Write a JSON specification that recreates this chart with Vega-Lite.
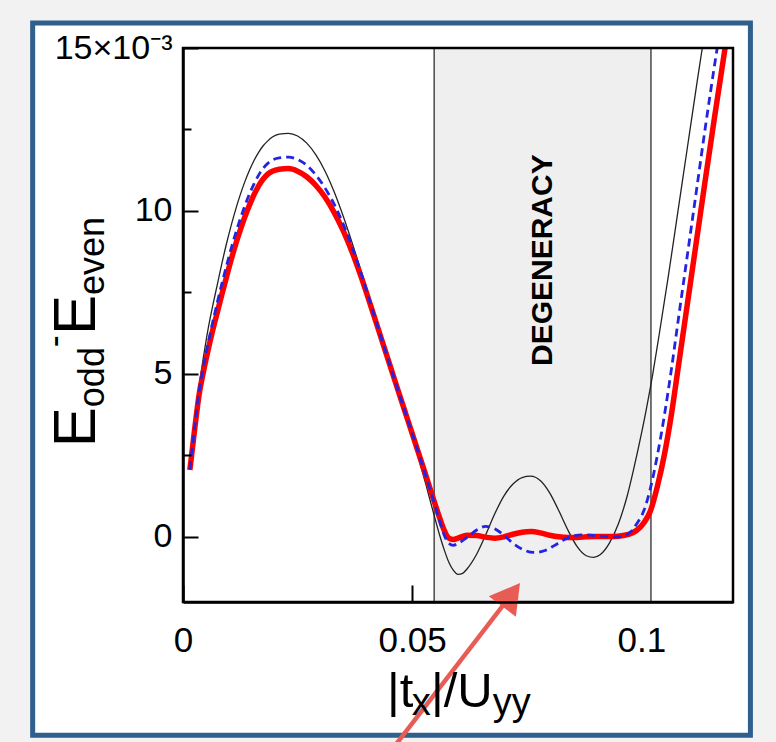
{
  "$schema": "https://vega.github.io/schema/vega-lite/v6.json",
  "width": 550,
  "height": 554,
  "autosize": {"type": "none"},
  "padding": {"left": 183, "top": 48, "right": 43, "bottom": 140},
  "background": "#f2f2f2",
  "config": {"view": {"stroke": null}, "axis": {"grid": false}},
  "datasets": {
    "border": [{"x1": -0.0328, "x2": 0.1238, "y1": -6.09, "y2": 15.77}],
    "region": [{"x1": 0.0548, "x2": 0.1021, "y1": -2, "y2": 15}],
    "frame": [{"x1": 0, "x2": 0.12, "y1": -2, "y2": 15}],
    "curves": [
      {"s":"thin","x":0.0015,"y":2.1},{"s":"thin","x":0.0025,"y":3.4},{"s":"thin","x":0.0035,"y":4.6},{"s":"thin","x":0.0045,"y":5.55},{"s":"thin","x":0.0055,"y":6.4},{"s":"thin","x":0.0065,"y":7.1},{"s":"thin","x":0.0075,"y":7.75},{"s":"thin","x":0.0085,"y":8.4},{"s":"thin","x":0.0095,"y":9.0},{"s":"thin","x":0.0105,"y":9.55},{"s":"thin","x":0.0115,"y":10.05},{"s":"thin","x":0.0125,"y":10.5},{"s":"thin","x":0.0135,"y":10.9},{"s":"thin","x":0.0145,"y":11.25},{"s":"thin","x":0.0155,"y":11.55},{"s":"thin","x":0.0165,"y":11.8},{"s":"thin","x":0.0175,"y":12.0},{"s":"thin","x":0.0185,"y":12.15},{"s":"thin","x":0.0195,"y":12.27},{"s":"thin","x":0.021,"y":12.36},{"s":"thin","x":0.023,"y":12.38},{"s":"thin","x":0.025,"y":12.3},{"s":"thin","x":0.027,"y":12.08},{"s":"thin","x":0.029,"y":11.72},{"s":"thin","x":0.031,"y":11.22},{"s":"thin","x":0.033,"y":10.58},{"s":"thin","x":0.035,"y":9.82},{"s":"thin","x":0.037,"y":8.98},{"s":"thin","x":0.039,"y":8.1},{"s":"thin","x":0.041,"y":7.2},{"s":"thin","x":0.043,"y":6.3},{"s":"thin","x":0.045,"y":5.4},{"s":"thin","x":0.047,"y":4.48},{"s":"thin","x":0.049,"y":3.55},{"s":"thin","x":0.051,"y":2.6},{"s":"thin","x":0.053,"y":1.6},{"s":"thin","x":0.055,"y":0.55},{"s":"thin","x":0.056,"y":0.05},{"s":"thin","x":0.057,"y":-0.4},{"s":"thin","x":0.058,"y":-0.78},{"s":"thin","x":0.059,"y":-1.03},{"s":"thin","x":0.06,"y":-1.15},{"s":"thin","x":0.061,"y":-1.12},{"s":"thin","x":0.062,"y":-0.98},{"s":"thin","x":0.064,"y":-0.55},{"s":"thin","x":0.066,"y":0.05},{"s":"thin","x":0.068,"y":0.7},{"s":"thin","x":0.07,"y":1.25},{"s":"thin","x":0.072,"y":1.62},{"s":"thin","x":0.074,"y":1.82},{"s":"thin","x":0.0758,"y":1.86},{"s":"thin","x":0.078,"y":1.72},{"s":"thin","x":0.08,"y":1.35},{"s":"thin","x":0.082,"y":0.8},{"s":"thin","x":0.084,"y":0.2},{"s":"thin","x":0.086,"y":-0.3},{"s":"thin","x":0.088,"y":-0.58},{"s":"thin","x":0.0896,"y":-0.63},{"s":"thin","x":0.091,"y":-0.55},{"s":"thin","x":0.093,"y":-0.2},{"s":"thin","x":0.095,"y":0.4},{"s":"thin","x":0.097,"y":1.3},{"s":"thin","x":0.099,"y":2.5},{"s":"thin","x":0.101,"y":3.85},{"s":"thin","x":0.1025,"y":5.0},{"s":"thin","x":0.104,"y":6.3},{"s":"thin","x":0.106,"y":8.1},{"s":"thin","x":0.108,"y":10.0},{"s":"thin","x":0.11,"y":11.9},{"s":"thin","x":0.112,"y":13.8},{"s":"thin","x":0.1133,"y":15.0},{"s":"thin","x":0.114,"y":15.6},
      {"s":"thick","x":0.0015,"y":2.05},{"s":"thick","x":0.0025,"y":3.25},{"s":"thick","x":0.0035,"y":4.35},{"s":"thick","x":0.0045,"y":5.1},{"s":"thick","x":0.0055,"y":5.75},{"s":"thick","x":0.0065,"y":6.35},{"s":"thick","x":0.0075,"y":6.9},{"s":"thick","x":0.0085,"y":7.45},{"s":"thick","x":0.0095,"y":7.98},{"s":"thick","x":0.0105,"y":8.5},{"s":"thick","x":0.0115,"y":8.98},{"s":"thick","x":0.0125,"y":9.42},{"s":"thick","x":0.0135,"y":9.82},{"s":"thick","x":0.0145,"y":10.18},{"s":"thick","x":0.0155,"y":10.5},{"s":"thick","x":0.0165,"y":10.77},{"s":"thick","x":0.0175,"y":10.98},{"s":"thick","x":0.0185,"y":11.13},{"s":"thick","x":0.0195,"y":11.22},{"s":"thick","x":0.021,"y":11.28},{"s":"thick","x":0.023,"y":11.3},{"s":"thick","x":0.025,"y":11.22},{"s":"thick","x":0.027,"y":11.05},{"s":"thick","x":0.029,"y":10.78},{"s":"thick","x":0.031,"y":10.42},{"s":"thick","x":0.033,"y":9.95},{"s":"thick","x":0.035,"y":9.38},{"s":"thick","x":0.037,"y":8.7},{"s":"thick","x":0.039,"y":7.92},{"s":"thick","x":0.041,"y":7.07},{"s":"thick","x":0.043,"y":6.2},{"s":"thick","x":0.045,"y":5.33},{"s":"thick","x":0.047,"y":4.46},{"s":"thick","x":0.049,"y":3.6},{"s":"thick","x":0.051,"y":2.74},{"s":"thick","x":0.053,"y":1.88},{"s":"thick","x":0.055,"y":1.0},{"s":"thick","x":0.056,"y":0.58},{"s":"thick","x":0.057,"y":0.2},{"s":"thick","x":0.058,"y":-0.04},{"s":"thick","x":0.059,"y":-0.08},{"s":"thick","x":0.06,"y":-0.04},{"s":"thick","x":0.062,"y":0.05},{"s":"thick","x":0.064,"y":0.04},{"s":"thick","x":0.066,"y":-0.01},{"s":"thick","x":0.068,"y":-0.04},{"s":"thick","x":0.07,"y":0.0},{"s":"thick","x":0.072,"y":0.08},{"s":"thick","x":0.074,"y":0.14},{"s":"thick","x":0.076,"y":0.16},{"s":"thick","x":0.078,"y":0.12},{"s":"thick","x":0.08,"y":0.05},{"s":"thick","x":0.082,"y":0.0},{"s":"thick","x":0.084,"y":-0.02},{"s":"thick","x":0.086,"y":-0.02},{"s":"thick","x":0.088,"y":0.0},{"s":"thick","x":0.09,"y":0.01},{"s":"thick","x":0.092,"y":0.01},{"s":"thick","x":0.094,"y":0.01},{"s":"thick","x":0.096,"y":0.04},{"s":"thick","x":0.098,"y":0.12},{"s":"thick","x":0.099,"y":0.2},{"s":"thick","x":0.1005,"y":0.42},{"s":"thick","x":0.102,"y":0.8},{"s":"thick","x":0.1035,"y":1.55},{"s":"thick","x":0.105,"y":2.5},{"s":"thick","x":0.1065,"y":3.7},{"s":"thick","x":0.108,"y":5.15},{"s":"thick","x":0.11,"y":7.1},{"s":"thick","x":0.112,"y":9.05},{"s":"thick","x":0.114,"y":11.0},{"s":"thick","x":0.116,"y":12.9},{"s":"thick","x":0.118,"y":14.75},{"s":"thick","x":0.1185,"y":15.2},
      {"s":"dashed","x":0.0015,"y":2.08},{"s":"dashed","x":0.0025,"y":3.3},{"s":"dashed","x":0.0035,"y":4.45},{"s":"dashed","x":0.0045,"y":5.25},{"s":"dashed","x":0.0055,"y":5.95},{"s":"dashed","x":0.0065,"y":6.6},{"s":"dashed","x":0.0075,"y":7.2},{"s":"dashed","x":0.0085,"y":7.78},{"s":"dashed","x":0.0095,"y":8.32},{"s":"dashed","x":0.0105,"y":8.84},{"s":"dashed","x":0.0115,"y":9.32},{"s":"dashed","x":0.0125,"y":9.76},{"s":"dashed","x":0.0135,"y":10.16},{"s":"dashed","x":0.0145,"y":10.52},{"s":"dashed","x":0.0155,"y":10.83},{"s":"dashed","x":0.0165,"y":11.1},{"s":"dashed","x":0.0175,"y":11.31},{"s":"dashed","x":0.0185,"y":11.46},{"s":"dashed","x":0.0195,"y":11.56},{"s":"dashed","x":0.021,"y":11.63},{"s":"dashed","x":0.023,"y":11.65},{"s":"dashed","x":0.025,"y":11.58},{"s":"dashed","x":0.027,"y":11.4},{"s":"dashed","x":0.029,"y":11.1},{"s":"dashed","x":0.031,"y":10.7},{"s":"dashed","x":0.033,"y":10.2},{"s":"dashed","x":0.035,"y":9.58},{"s":"dashed","x":0.037,"y":8.85},{"s":"dashed","x":0.039,"y":8.02},{"s":"dashed","x":0.041,"y":7.12},{"s":"dashed","x":0.043,"y":6.22},{"s":"dashed","x":0.045,"y":5.33},{"s":"dashed","x":0.047,"y":4.46},{"s":"dashed","x":0.049,"y":3.6},{"s":"dashed","x":0.051,"y":2.74},{"s":"dashed","x":0.053,"y":1.86},{"s":"dashed","x":0.055,"y":0.95},{"s":"dashed","x":0.056,"y":0.48},{"s":"dashed","x":0.057,"y":0.05},{"s":"dashed","x":0.058,"y":-0.2},{"s":"dashed","x":0.059,"y":-0.26},{"s":"dashed","x":0.06,"y":-0.2},{"s":"dashed","x":0.062,"y":-0.02},{"s":"dashed","x":0.064,"y":0.2},{"s":"dashed","x":0.066,"y":0.32},{"s":"dashed","x":0.068,"y":0.25},{"s":"dashed","x":0.07,"y":0.05},{"s":"dashed","x":0.072,"y":-0.2},{"s":"dashed","x":0.074,"y":-0.38},{"s":"dashed","x":0.0765,"y":-0.48},{"s":"dashed","x":0.079,"y":-0.42},{"s":"dashed","x":0.081,"y":-0.27},{"s":"dashed","x":0.083,"y":-0.1},{"s":"dashed","x":0.085,"y":0.02},{"s":"dashed","x":0.087,"y":0.06},{"s":"dashed","x":0.089,"y":0.05},{"s":"dashed","x":0.091,"y":0.02},{"s":"dashed","x":0.093,"y":0.0},{"s":"dashed","x":0.095,"y":0.0},{"s":"dashed","x":0.097,"y":0.08},{"s":"dashed","x":0.098,"y":0.2},{"s":"dashed","x":0.099,"y":0.4},{"s":"dashed","x":0.1006,"y":0.82},{"s":"dashed","x":0.102,"y":1.5},{"s":"dashed","x":0.1035,"y":2.5},{"s":"dashed","x":0.105,"y":3.7},{"s":"dashed","x":0.1066,"y":5.18},{"s":"dashed","x":0.108,"y":6.6},{"s":"dashed","x":0.11,"y":8.6},{"s":"dashed","x":0.112,"y":10.6},{"s":"dashed","x":0.114,"y":12.6},{"s":"dashed","x":0.116,"y":14.5},{"s":"dashed","x":0.1166,"y":15.05},{"s":"dashed","x":0.117,"y":15.5}
    ]
  },
  "layer": [
    {
      "data": {"name": "border"},
      "mark": {"type": "rect", "fill": "white", "stroke": "#2f5f8c", "strokeWidth": 5, "clip": false},
      "encoding": {
        "x": {"field": "x1", "type": "quantitative", "scale": {"domain": [0, 0.12], "nice": false, "zero": false},
          "axis": {"values": [0, 0.05, 0.1], "format": "~g", "title": null, "labelFlush": false, "zindex": 2, "orient": "bottom",
            "tickSize": -17, "tickWidth": 2, "tickColor": "black",
            "tickOpacity": {"condition": {"test": "datum.value > 0.09", "value": 0}, "value": 1},
            "labelPadding": 38, "labelFontSize": 35, "labelFont": "Liberation Sans", "labelColor": "black", "labelDx": 3,
            "domainColor": "black", "domainWidth": 2.5}},
        "x2": {"field": "x2"},
        "y": {"field": "y1", "type": "quantitative", "scale": {"domain": [-2, 15], "nice": false, "zero": false},
          "axis": {"values": [0, 5, 10, 15], "title": null, "labelExpr": "datum.value == 15 ? '15×10⁻³' : datum.label", "zindex": 2,
            "tickSize": -15, "tickWidth": 2, "tickColor": "black", "labelPadding": 26,
            "labelFontSize": 34, "labelFont": "Liberation Sans", "labelColor": "black",
            "domainColor": "black", "domainWidth": 2.5, "orient": "left"}},
        "y2": {"field": "y2"}
      }
    },
    {
      "data": {"name": "region"},
      "mark": {"type": "rect", "fill": "#efefef", "stroke": "#4a4a4a", "strokeWidth": 1.5},
      "encoding": {
        "x": {"field": "x1", "type": "quantitative", "axis": null},
        "x2": {"field": "x2"},
        "y": {"field": "y1", "type": "quantitative",
          "axis": {"values": [2.5, 7.5, 12.5], "labels": false, "domain": false, "title": null, "zindex": 2, "tickSize": -8, "tickWidth": 2, "tickColor": "black", "orient": "left"}},
        "y2": {"field": "y2"}
      }
    },
    {
      "data": {"values": [{"label": "DEGENERACY", "x": 0.0786, "y": 8.49}]},
      "mark": {"type": "text", "angle": 270, "font": "Liberation Sans", "fontWeight": "bold", "fontSize": 30, "align": "center", "baseline": "middle", "color": "black"},
      "encoding": {
        "x": {"field": "x", "type": "quantitative", "axis": null},
        "y": {"field": "y", "type": "quantitative", "axis": null},
        "text": {"field": "label"}
      }
    },
    {
      "data": {"name": "curves"},
      "transform": [{"filter": "datum.s == 'thin'"}],
      "mark": {"type": "line", "color": "#222222", "strokeWidth": 1.3, "clip": true, "interpolate": "monotone"},
      "encoding": {
        "x": {"field": "x", "type": "quantitative", "axis": null},
        "y": {"field": "y", "type": "quantitative", "axis": null}
      }
    },
    {
      "data": {"name": "curves"},
      "transform": [{"filter": "datum.s == 'thick'"}],
      "mark": {"type": "line", "color": "#ff0000", "strokeWidth": 5.5, "clip": true, "interpolate": "monotone"},
      "encoding": {
        "x": {"field": "x", "type": "quantitative", "axis": null},
        "y": {"field": "y", "type": "quantitative", "axis": null}
      }
    },
    {
      "data": {"name": "curves"},
      "transform": [{"filter": "datum.s == 'dashed'"}],
      "mark": {"type": "line", "color": "#2424e0", "strokeWidth": 2.8, "strokeDash": [8, 5], "clip": true, "interpolate": "monotone"},
      "encoding": {
        "x": {"field": "x", "type": "quantitative", "axis": null},
        "y": {"field": "y", "type": "quantitative", "axis": null}
      }
    },
    {
      "data": {"name": "frame"},
      "mark": {"type": "rect", "fillOpacity": 0, "stroke": "black", "strokeWidth": 2.5, "clip": false},
      "encoding": {
        "x": {"field": "x1", "type": "quantitative", "axis": null},
        "x2": {"field": "x2"},
        "y": {"field": "y1", "type": "quantitative", "axis": null},
        "y2": {"field": "y2"}
      }
    },
    {
      "data": {"values": [{"x": 0.0463, "y": -6.4, "x2": 0.0716, "y2": -1.78}]},
      "mark": {"type": "rule", "color": "#e85c56", "strokeWidth": 4.5, "clip": false},
      "encoding": {
        "x": {"field": "x", "type": "quantitative", "axis": null},
        "y": {"field": "y", "type": "quantitative", "axis": null},
        "x2": {"field": "x2"},
        "y2": {"field": "y2"}
      }
    },
    {
      "data": {"values": [{"x": 0.0716, "y": -1.78}]},
      "mark": {"type": "point", "shape": "triangle-up", "size": 1150, "angle": 37, "filled": true, "color": "#e85c56", "opacity": 1, "clip": false},
      "encoding": {
        "x": {"field": "x", "type": "quantitative", "axis": null},
        "y": {"field": "y", "type": "quantitative", "axis": null}
      }
    },
    {
      "data": {"values": [{"t": "|t", "x": 0.0445, "y": -5.232}, {"t": "|/U", "x": 0.0541, "y": -5.232}]},
      "mark": {"type": "text", "font": "Liberation Sans", "fontSize": 49, "align": "left", "baseline": "alphabetic", "color": "black"},
      "encoding": {
        "x": {"field": "x", "type": "quantitative", "axis": null},
        "y": {"field": "y", "type": "quantitative", "axis": null},
        "text": {"field": "t"}
      }
    },
    {
      "data": {"values": [{"t": "x", "x": 0.0499, "y": -5.477}, {"t": "yy", "x": 0.0676, "y": -5.477}]},
      "mark": {"type": "text", "font": "Liberation Sans", "fontSize": 38, "align": "left", "baseline": "alphabetic", "color": "black"},
      "encoding": {
        "x": {"field": "x", "type": "quantitative", "axis": null},
        "y": {"field": "y", "type": "quantitative", "axis": null},
        "text": {"field": "t"}
      }
    },
    {
      "data": {"values": [{"t": "E", "x": -0.01921, "y": 2.751}, {"t": "E", "x": -0.01921, "y": 6.19}]},
      "mark": {"type": "text", "font": "Liberation Sans", "fontSize": 60, "angle": 270, "align": "left", "baseline": "alphabetic", "color": "black"},
      "encoding": {
        "x": {"field": "x", "type": "quantitative", "axis": null},
        "y": {"field": "y", "type": "quantitative", "axis": null},
        "text": {"field": "t"}
      }
    },
    {
      "data": {"values": [{"t": "odd", "x": -0.01725, "y": 3.979}, {"t": "-", "x": -0.02555, "y": 5.821}, {"t": "even", "x": -0.01725, "y": 7.42}]},
      "mark": {"type": "text", "font": "Liberation Sans", "fontSize": 36, "angle": 270, "align": "left", "baseline": "alphabetic", "color": "black"},
      "encoding": {
        "x": {"field": "x", "type": "quantitative", "axis": null},
        "y": {"field": "y", "type": "quantitative", "axis": null},
        "text": {"field": "t"}
      }
    }
  ],
  "resolve": {"axis": {"x": "independent", "y": "independent"}}
}
